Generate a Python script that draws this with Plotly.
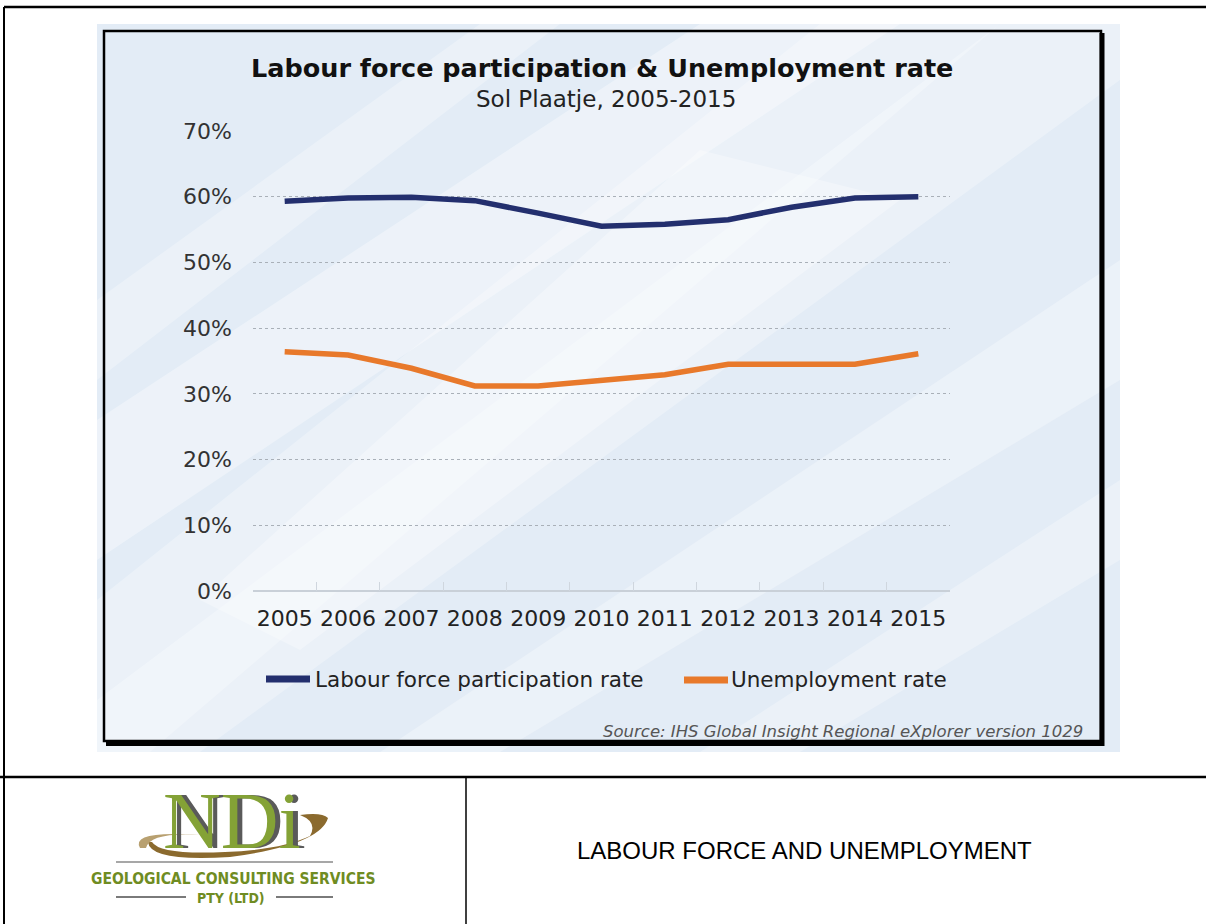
import plotly.graph_objects as go

W, H = 1206, 924

years = ["2005", "2006", "2007", "2008", "2009", "2010", "2011", "2012", "2013", "2014", "2015"]
labour_force = [59.3, 59.8, 59.9, 59.4, 57.5, 55.5, 55.8, 56.5, 58.4, 59.8, 60.0]
unemployment = [36.4, 35.9, 33.9, 31.2, 31.2, 32.1, 32.9, 34.5, 34.5, 34.5, 36.1]
series_names = ["Labour force participation rate", "Unemployment rate"]
series_colors = ["#232f6e", "#e8792b"]
y_ticks = [0, 10, 20, 30, 40, 50, 60, 70]
y_tick_labels = ["0%", "10%", "20%", "30%", "40%", "50%", "60%", "70%"]


def px(x):
    return x / W


def py(y):
    return 1 - y / H


fig = go.Figure()
for name, vals, col in zip(series_names, [labour_force, unemployment], series_colors):
    fig.add_trace(go.Scatter(x=years, y=vals, name=name, mode="lines",
                             line=dict(color=col, width=5.5), showlegend=False,
                             hoverinfo="x+y"))

shapes = []
# chart picture background
shapes.append(dict(type="rect", xref="paper", yref="paper", x0=px(97), x1=px(1120), y0=py(752), y1=py(24),
                   fillcolor="#e3ecf6", line=dict(width=0), layer="below"))
# soft diagonal light streaks
streaks = [
    [(97, 560), (97, 420), (700, 24), (900, 24)],
    [(200, 752), (97, 752), (97, 700), (1000, 24), (1120, 24), (1120, 80)],
    [(97, 380), (97, 300), (480, 24), (560, 24)],
    [(500, 752), (380, 752), (1120, 260), (1120, 380)],
    [(150, 752), (97, 752), (97, 600), (820, 24), (1000, 24)],
    [(800, 752), (700, 752), (1120, 480), (1120, 560)],
    [(300, 650), (200, 600), (700, 150), (900, 200)],
]
opac = [0.35, 0.28, 0.28, 0.3, 0.28, 0.28, 0.3]
for pts, op in zip(streaks, opac):
    path = "M " + " L ".join(f"{px(x)},{py(y)}" for x, y in pts) + " Z"
    shapes.append(dict(type="path", xref="paper", yref="paper", path=path,
                       fillcolor=f"rgba(255,255,255,{op})", line=dict(width=0), layer="below"))
# chart frame
shapes.append(dict(type="rect", xref="paper", yref="paper", x0=px(104), x1=px(1101), y0=py(741), y1=py(31),
                   line=dict(color="black", width=2.5), fillcolor="rgba(0,0,0,0)"))
shapes.append(dict(type="line", xref="paper", yref="paper", x0=px(1102), x1=px(1102), y0=py(746), y1=py(33),
                   line=dict(color="black", width=5)))
shapes.append(dict(type="line", xref="paper", yref="paper", x0=px(106), x1=px(1104), y0=py(743.5), y1=py(743.5),
                   line=dict(color="black", width=5)))
# legend swatches
shapes.append(dict(type="line", xref="paper", yref="paper", x0=px(266), x1=px(310), y0=py(679), y1=py(679),
                   line=dict(color=series_colors[0], width=7)))
shapes.append(dict(type="line", xref="paper", yref="paper", x0=px(684), x1=px(728), y0=py(680), y1=py(680),
                   line=dict(color=series_colors[1], width=7)))
# page borders / table
page_lines = [
    (4, 7, 1206, 7, 2.5),
    (4, 7, 4, 924, 2),
    (0, 777, 1206, 777, 2.5),
    (466, 777, 466, 924, 1.5),
]
for x0, y0, x1, y1, w in page_lines:
    shapes.append(dict(type="line", xref="paper", yref="paper", x0=px(x0), x1=px(x1), y0=py(y0), y1=py(y1),
                       line=dict(color="black", width=w)))


def qpath(pts):
    s = f"M {px(pts[0][0])},{py(pts[0][1])}"
    i = 1
    while i + 1 < len(pts):
        s += f" Q {px(pts[i][0])},{py(pts[i][1])} {px(pts[i+1][0])},{py(pts[i+1][1])}"
        i += 2
    return s + " Z"


# logo decorations: swoosh
shapes.append(dict(type="path", xref="paper", yref="paper",
                   path=qpath([(148, 842), (150, 862), (230, 857), (320, 845), (328, 818),
                               (322, 812), (300, 815), (318, 822), (310, 836), (280, 850), (225, 852),
                               (160, 855), (152, 842)]),
                   fillcolor="#8b6a2e", line=dict(width=0)))
shapes.append(dict(type="path", xref="paper", yref="paper",
                   path=qpath([(140, 848), (130, 830), (200, 835), (150, 832), (146, 848)]),
                   fillcolor="#b8a070", line=dict(width=0)))
shapes.append(dict(type="line", xref="paper", yref="paper", x0=px(116), x1=px(333), y0=py(862), y1=py(862),
                   line=dict(color="#8a8a8a", width=1.5)))
shapes.append(dict(type="line", xref="paper", yref="paper", x0=px(116), x1=px(186), y0=py(897), y1=py(897),
                   line=dict(color="#7a7a7a", width=2)))
shapes.append(dict(type="line", xref="paper", yref="paper", x0=px(276), x1=px(333), y0=py(897), y1=py(897),
                   line=dict(color="#7a7a7a", width=2)))

annotations = []


def ann(text, x, y, size, color="#222", family="DejaVu Sans", xanchor="center", bold=False, italic=False, shadow=None):
    t = f"<b>{text}</b>" if bold else text
    t = f"<i>{t}</i>" if italic else t
    font = dict(size=size, color=color, family=family)
    if shadow:
        font["shadow"] = shadow
    annotations.append(dict(text=t, x=px(x), y=py(y), xref="paper", yref="paper", xanchor=xanchor,
                            yanchor="middle", showarrow=False, font=font))


ann("Labour force participation &amp; Unemployment rate", 602, 68, 25.5, color="#111", bold=True)
ann("Sol Plaatje, 2005-2015", 606, 99, 23, color="#222")
ann(series_names[0], 313, 679, 21.5, color="#222", xanchor="left")
ann(series_names[1], 729, 679, 21.5, color="#222", xanchor="left")
ann("Source: IHS Global Insight Regional eXplorer version 1029", 1085, 731, 16.5, color="#555", xanchor="right", italic=True)
ann("LABOUR FORCE AND UNEMPLOYMENT", 804, 850, 24, color="#000", family="Liberation Sans")
# logo text: green letters with grey offset shadow
ann("NDi", 232, 821, 80, color="#84a236", family="Liberation Serif", shadow="5px 0px 0px #5a5a5a")
ann("<b>GEOLOGICAL CONSULTING SERVICES</b>", 233, 879, 15.5, color="#6f8c22", family="Liberation Sans Narrow, DejaVu Sans Condensed, Roboto")
ann("<b>PTY (LTD)</b>", 231, 898, 14, color="#6f8c22", family="Liberation Sans Narrow, DejaVu Sans Condensed, Roboto")

fig.update_layout(
    width=W, height=H,
    margin=dict(l=0, r=0, t=0, b=0, pad=0, autoexpand=False),
    paper_bgcolor="white",
    plot_bgcolor="rgba(0,0,0,0)",
    shapes=shapes,
    annotations=annotations,
    showlegend=False,
    xaxis=dict(domain=[px(253), px(950)], type="category", range=[-0.5, 10.5], automargin=False,
               showgrid=False, showline=False, zeroline=False,
               ticks="inside", ticklen=9, tickcolor="#cfd6de", tickwidth=1, tickson="boundaries",
               tickangle=0,
               tickfont=dict(family="DejaVu Sans", size=22, color="#222"), ticklabelstandoff=12),
    yaxis=dict(domain=[py(591), py(131)], range=[0, 70], tickvals=y_ticks, ticktext=y_tick_labels,
               automargin=False,
               showgrid=True, gridcolor="#a9b0b8", griddash="dot", gridwidth=1,
               zeroline=True, zerolinecolor="#c9d0d8", zerolinewidth=1.5,
               showline=False, ticks="",
               tickfont=dict(family="DejaVu Sans", size=22, color="#333"), ticklabelstandoff=20),
)

fig.write_html("out.html", config={"responsive": False})
